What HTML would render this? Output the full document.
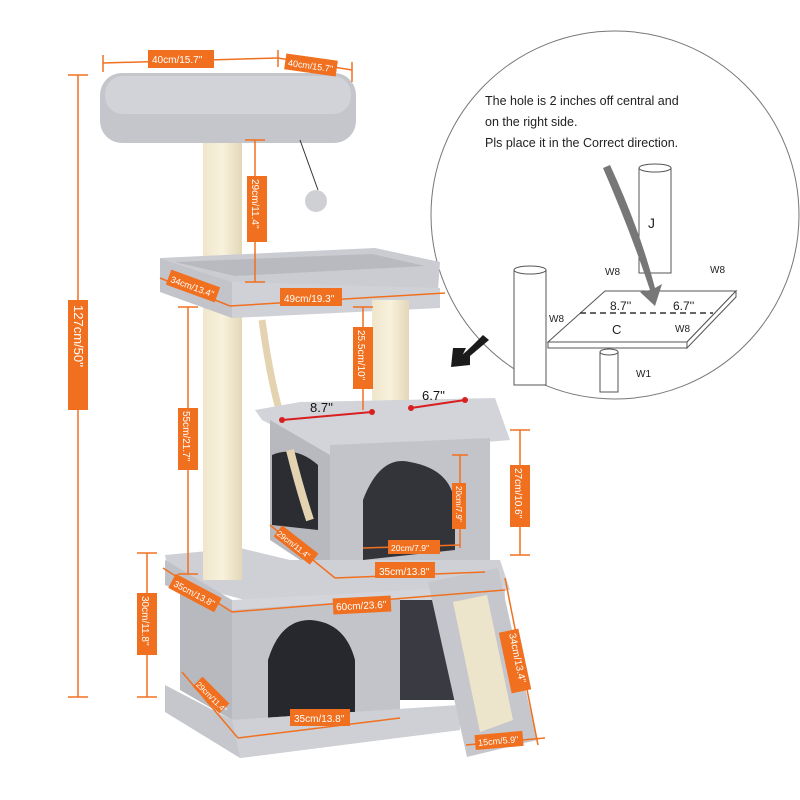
<!DOCTYPE html>
<html><head><meta charset="utf-8"><style>
html,body{margin:0;padding:0;background:#fff}
svg{display:block}
text{font-family:"Liberation Sans",sans-serif}
.lb{fill:#fff;font-size:10px}
</style></head><body>
<svg width="800" height="800" viewBox="0 0 800 800" xmlns="http://www.w3.org/2000/svg">
<defs>
<linearGradient id="post" x1="0" x2="1"><stop offset="0" stop-color="#efe6cc"/><stop offset="0.5" stop-color="#f8f1dc"/><stop offset="1" stop-color="#e3d7b8"/></linearGradient>
</defs>
<circle cx="615" cy="215" r="184" fill="#fff" stroke="#777" stroke-width="1"/>
<g fill="#222" font-size="12.5">
<text x="485" y="105">The hole is 2 inches off central and</text>
<text x="485" y="126">on the right side.</text>
<text x="485" y="147">Pls place it in the Correct direction.</text>
</g>
<g stroke="#555" fill="#fff" stroke-width="1">
<rect x="639" y="168" width="32" height="105"/>
<ellipse cx="655" cy="168" rx="16" ry="4"/>
<polygon points="548,342 605,291 736,291 687,342"/>
<polygon points="548,342 687,342 687,348 548,348"/>
<polygon points="687,342 736,291 736,297 687,348"/>
<rect x="514" y="270" width="32" height="115"/>
<ellipse cx="530" cy="270" rx="16" ry="4"/>
<rect x="600" y="352" width="18" height="40"/>
<ellipse cx="609" cy="352" rx="9" ry="3"/>
</g>
<line x1="580" y1="313" x2="713" y2="313" stroke="#333" stroke-width="1.5" stroke-dasharray="6,4"/>
<path d="M603,168 Q630,230 650,290 L640,292 L655,306 L662,284 L655,288 Q640,230 610,165 Z" fill="#777"/>
<g fill="#222" font-size="10">
<text x="648" y="228" font-size="14">J</text>
<text x="612" y="334" font-size="13">C</text>
<text x="605" y="275">W8</text><text x="710" y="273">W8</text>
<text x="549" y="322">W8</text><text x="675" y="332">W8</text>
<text x="636" y="377">W1</text>
<text x="610" y="310" font-size="12">8.7''</text>
<text x="673" y="310" font-size="12">6.7''</text>
</g>
<path d="M483,335 L462,356 L466,348 L453,348 L451,367 L470,365 L470,356 L489,340 Z" fill="#1b1b1b"/>
<line x1="485" y1="338" x2="458" y2="362" stroke="#1b1b1b" stroke-width="5"/>
<rect x="203" y="138" width="39" height="442" fill="url(#post)"/>
<rect x="372" y="300" width="37" height="118" fill="url(#post)"/>
<rect x="100" y="73" width="256" height="70" rx="22" fill="#c5c6cc"/>
<rect x="105" y="76" width="246" height="38" rx="18" fill="#d2d3d8"/>
<line x1="300" y1="140" x2="318" y2="190" stroke="#333" stroke-width="1"/>
<circle cx="316" cy="201" r="11" fill="#cfd0d4"/>
<polygon points="160,258 375,248 440,262 438,290 232,282" fill="#cbccd1"/>
<polygon points="175,262 372,254 425,266 235,276" fill="#b9bac0"/>
<polygon points="160,258 232,282 232,318 160,292" fill="#c3c4ca"/>
<polygon points="232,282 440,288 440,308 232,318" fill="#d0d1d6"/>
<rect x="372" y="300" width="37" height="118" fill="url(#post)"/>
<path d="M262,320 Q270,380 282,420 Q300,480 310,520" stroke="#e3d3b0" stroke-width="7" fill="none"/>
<polygon points="255,410 300,402 495,398 510,440 330,455 262,420" fill="#d3d4d9"/>
<polygon points="270,420 330,455 330,580 270,540" fill="#b8b9bf"/>
<polygon points="330,445 490,438 490,566 330,578" fill="#c3c4ca"/>
<path d="M272,455 Q295,445 318,465 L318,530 L272,525 Z" fill="#2c2c33"/>
<path d="M363,560 L363,500 Q380,455 410,462 Q455,470 455,510 L455,550 Z" fill="#33333a"/>
<path d="M290,450 Q300,490 310,520" stroke="#e3d3b0" stroke-width="8" fill="none"/>
<polygon points="165,555 240,548 290,560 500,560 510,590 305,605 245,600 170,580" fill="#cfd0d5"/>
<rect x="203" y="545" width="39" height="35" fill="url(#post)"/>
<polygon points="165,560 232,600 232,615 165,585" fill="#c0c1c7"/>
<polygon points="232,600 505,585 505,600 232,615" fill="#d4d5da"/>
<polygon points="180,580 232,610 232,720 180,690" fill="#b8b9bf"/>
<polygon points="232,610 400,598 400,715 232,720" fill="#c3c4ca"/>
<path d="M268,720 L268,660 Q280,620 310,620 Q345,622 355,660 L355,720 Z" fill="#27272e"/>
<rect x="400" y="600" width="60" height="100" fill="#3a3a42"/>
<polygon points="165,685 232,720 460,705 460,730 240,758 165,712" fill="#c6c7cc"/>
<polygon points="232,720 460,705 460,730 240,758" fill="#cfd0d5"/>
<polygon points="428,582 498,568 537,740 467,757" fill="#c6c7cc"/>
<polygon points="453,602 487,595 513,720 480,732" fill="#ede4cc"/>
<g stroke="#f07020" stroke-width="1.5" fill="none">
<line x1="78" y1="75" x2="78" y2="697"/><line x1="68" y1="75" x2="88" y2="75"/><line x1="68" y1="697" x2="88" y2="697"/>
<line x1="147" y1="553" x2="147" y2="697"/><line x1="137" y1="553" x2="157" y2="553"/><line x1="137" y1="697" x2="157" y2="697"/>
<line x1="188" y1="307" x2="188" y2="574"/><line x1="178" y1="307" x2="198" y2="307"/><line x1="178" y1="574" x2="198" y2="574"/>
<line x1="255" y1="140" x2="255" y2="282"/><line x1="245" y1="140" x2="265" y2="140"/><line x1="245" y1="282" x2="265" y2="282"/>
<line x1="363" y1="307" x2="363" y2="410"/><line x1="353" y1="307" x2="373" y2="307"/>
<line x1="103" y1="63" x2="278" y2="58"/><line x1="103" y1="55" x2="103" y2="72"/><line x1="278" y1="50" x2="278" y2="67"/>
<line x1="278" y1="58" x2="352" y2="70"/><line x1="352" y1="62" x2="352" y2="82"/>
<line x1="160" y1="278" x2="230" y2="306"/><line x1="230" y1="306" x2="445" y2="293"/>
<line x1="520" y1="430" x2="520" y2="555"/><line x1="510" y1="430" x2="530" y2="430"/><line x1="510" y1="555" x2="530" y2="555"/>
<line x1="460" y1="455" x2="460" y2="548"/><line x1="452" y1="455" x2="468" y2="455"/>
<line x1="363" y1="548" x2="460" y2="545"/>
<line x1="335" y1="578" x2="485" y2="572"/>
<line x1="270" y1="525" x2="335" y2="578"/>
<line x1="163" y1="568" x2="232" y2="612"/>
<line x1="232" y1="612" x2="505" y2="590"/>
<line x1="182" y1="672" x2="238" y2="738"/>
<line x1="238" y1="738" x2="400" y2="718"/>
<line x1="505" y1="578" x2="538" y2="745"/>
<line x1="466" y1="745" x2="545" y2="738"/>
</g>
<g stroke="#d82020" stroke-width="2"><line x1="282" y1="420" x2="372" y2="412"/><line x1="411" y1="408" x2="465" y2="400"/></g>
<g fill="#d82020"><circle cx="282" cy="420" r="3"/><circle cx="372" cy="412" r="3"/><circle cx="411" cy="408" r="3"/><circle cx="465" cy="400" r="3"/></g>
<g font-size="13" fill="#111"><text x="310" y="412">8.7''</text><text x="422" y="400">6.7''</text></g>
<g fill="#f07020">
<rect x="148" y="50" width="66" height="18"/>
<rect x="285" y="57" width="52" height="16" transform="rotate(8 311 65)"/>
<rect x="68" y="300" width="20" height="110"/>
<rect x="247" y="176" width="20" height="66"/>
<rect x="167" y="278" width="52" height="16" transform="rotate(20 193 286)"/>
<rect x="280" y="288" width="62" height="18"/>
<rect x="353" y="327" width="20" height="62"/>
<rect x="178" y="408" width="20" height="62"/>
<rect x="137" y="593" width="20" height="62"/>
<rect x="510" y="465" width="20" height="62"/>
<rect x="452" y="483" width="14" height="46"/>
<rect x="388" y="540" width="52" height="14"/>
<rect x="375" y="562" width="60" height="16"/>
<rect x="273" y="538" width="46" height="14" transform="rotate(38 296 545)"/>
<rect x="169" y="585" width="52" height="16" transform="rotate(28 195 593)"/>
<rect x="333" y="597" width="58" height="16" transform="rotate(-3 362 605)"/>
<rect x="192" y="688" width="38" height="14" transform="rotate(45 211 695)"/>
<rect x="290" y="709" width="60" height="17"/>
<rect x="505" y="630" width="20" height="62" transform="rotate(-12 515 661)"/>
<rect x="475" y="733" width="48" height="15" transform="rotate(-5 499 740)"/>
</g>
<g class="lb">
<text x="152" y="63">40cm/15.7''</text>
<text x="288" y="69" font-size="9" transform="rotate(8 311 65)">40cm/15.7''</text>
<text x="284" y="302">49cm/19.3''</text>
<text x="170" y="290" font-size="9" transform="rotate(20 193 286)">34cm/13.4''</text>
<text x="336" y="609" transform="rotate(-3 362 605)">60cm/23.6''</text>
<text x="379" y="575">35cm/13.8''</text>
<text x="391" y="551" font-size="8.5">20cm/7.9''</text>
<text x="294" y="722">35cm/13.8''</text>
<text x="172" y="597" font-size="9" transform="rotate(28 195 593)">35cm/13.8''</text>
<text x="274" y="549" font-size="8" transform="rotate(38 296 545)">29cm/11.4''</text>
<text x="193" y="699" font-size="8" transform="rotate(45 211 695)">29cm/11.4''</text>
<text x="478" y="744" font-size="9" transform="rotate(-5 499 740)">15cm/5.9''</text>
<text transform="translate(74,305) rotate(90)" font-size="13">127cm/50''</text>
<text transform="translate(252,179) rotate(90)">29cm/11.4''</text>
<text transform="translate(358,330) rotate(90)">25.5cm/10''</text>
<text transform="translate(183,411) rotate(90)">55cm/21.7''</text>
<text transform="translate(142,596) rotate(90)">30cm/11.8''</text>
<text transform="translate(515,468) rotate(90)">27cm/10.6''</text>
<text transform="translate(456,486) rotate(90)" font-size="8">20cm/7.9''</text>
<text transform="translate(509,634) rotate(78)">34cm/13.4''</text>
</g>
</svg>
</body></html>
